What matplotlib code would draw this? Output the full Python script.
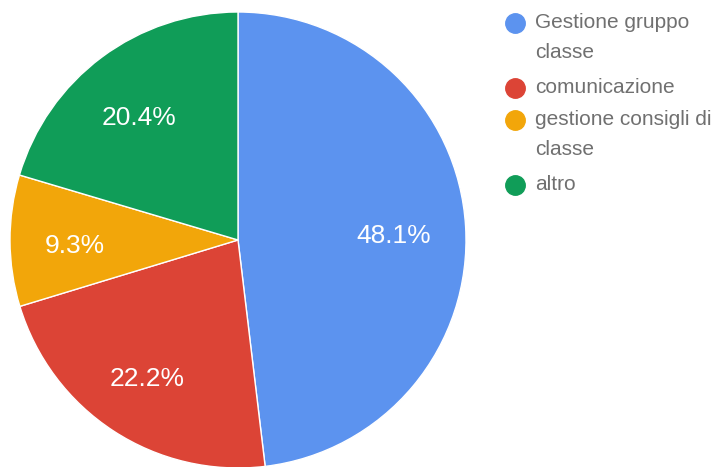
import matplotlib.pyplot as plt
from matplotlib.lines import Line2D

# data
labels = ["Gestione gruppo\nclasse", "comunicazione", "gestione consigli di\nclasse", "altro"]
values = [48.1, 22.2, 9.3, 20.4]
colors = ["#5C93EF", "#DC4436", "#F2A60A", "#109D58"]

plt.rcParams['font.family'] = ['Liberation Sans', 'DejaVu Sans']

fig = plt.figure(figsize=(7.24, 4.67), dpi=100)

# pie centre at (238, 240) px, radius 228 px
cx, cy, r = 238, 240, 228
ax = fig.add_axes([(cx - r) / 724, (467 - cy - r) / 467, 2 * r / 724, 2 * r / 467])
wedges, texts, autotexts = ax.pie(values, colors=colors, startangle=90, counterclock=False,
                                  autopct='%1.1f%%', pctdistance=0.7,
                                  wedgeprops=dict(edgecolor='white', linewidth=1))
for t in autotexts:
    t.set_color('white')
    t.set_fontsize(19)
    # nudge down a little, labels sit slightly lower in the original
    x, y = t.get_position()
    t.set_position((x - 0.015, y - 0.025))
ax.set_xlim(-1, 1)
ax.set_ylim(-1, 1)
ax.set_aspect('equal')
ax.axis('off')

# legend, drawn by hand so the line spacing matches
ys = [23, 88, 120, 185]
for y, lab, col in zip(ys, labels, colors):
    fig.add_artist(Line2D([515 / 724], [1 - y / 467], marker='o', markersize=14,
                          color=col, transform=fig.transFigure))
    fig.text(535 / 724, 1 - (y - 10) / 467, lab, color='#707070', fontsize=15,
             va='top', ha='left', linespacing=1.72)

fig.savefig("out.png", dpi=100)
